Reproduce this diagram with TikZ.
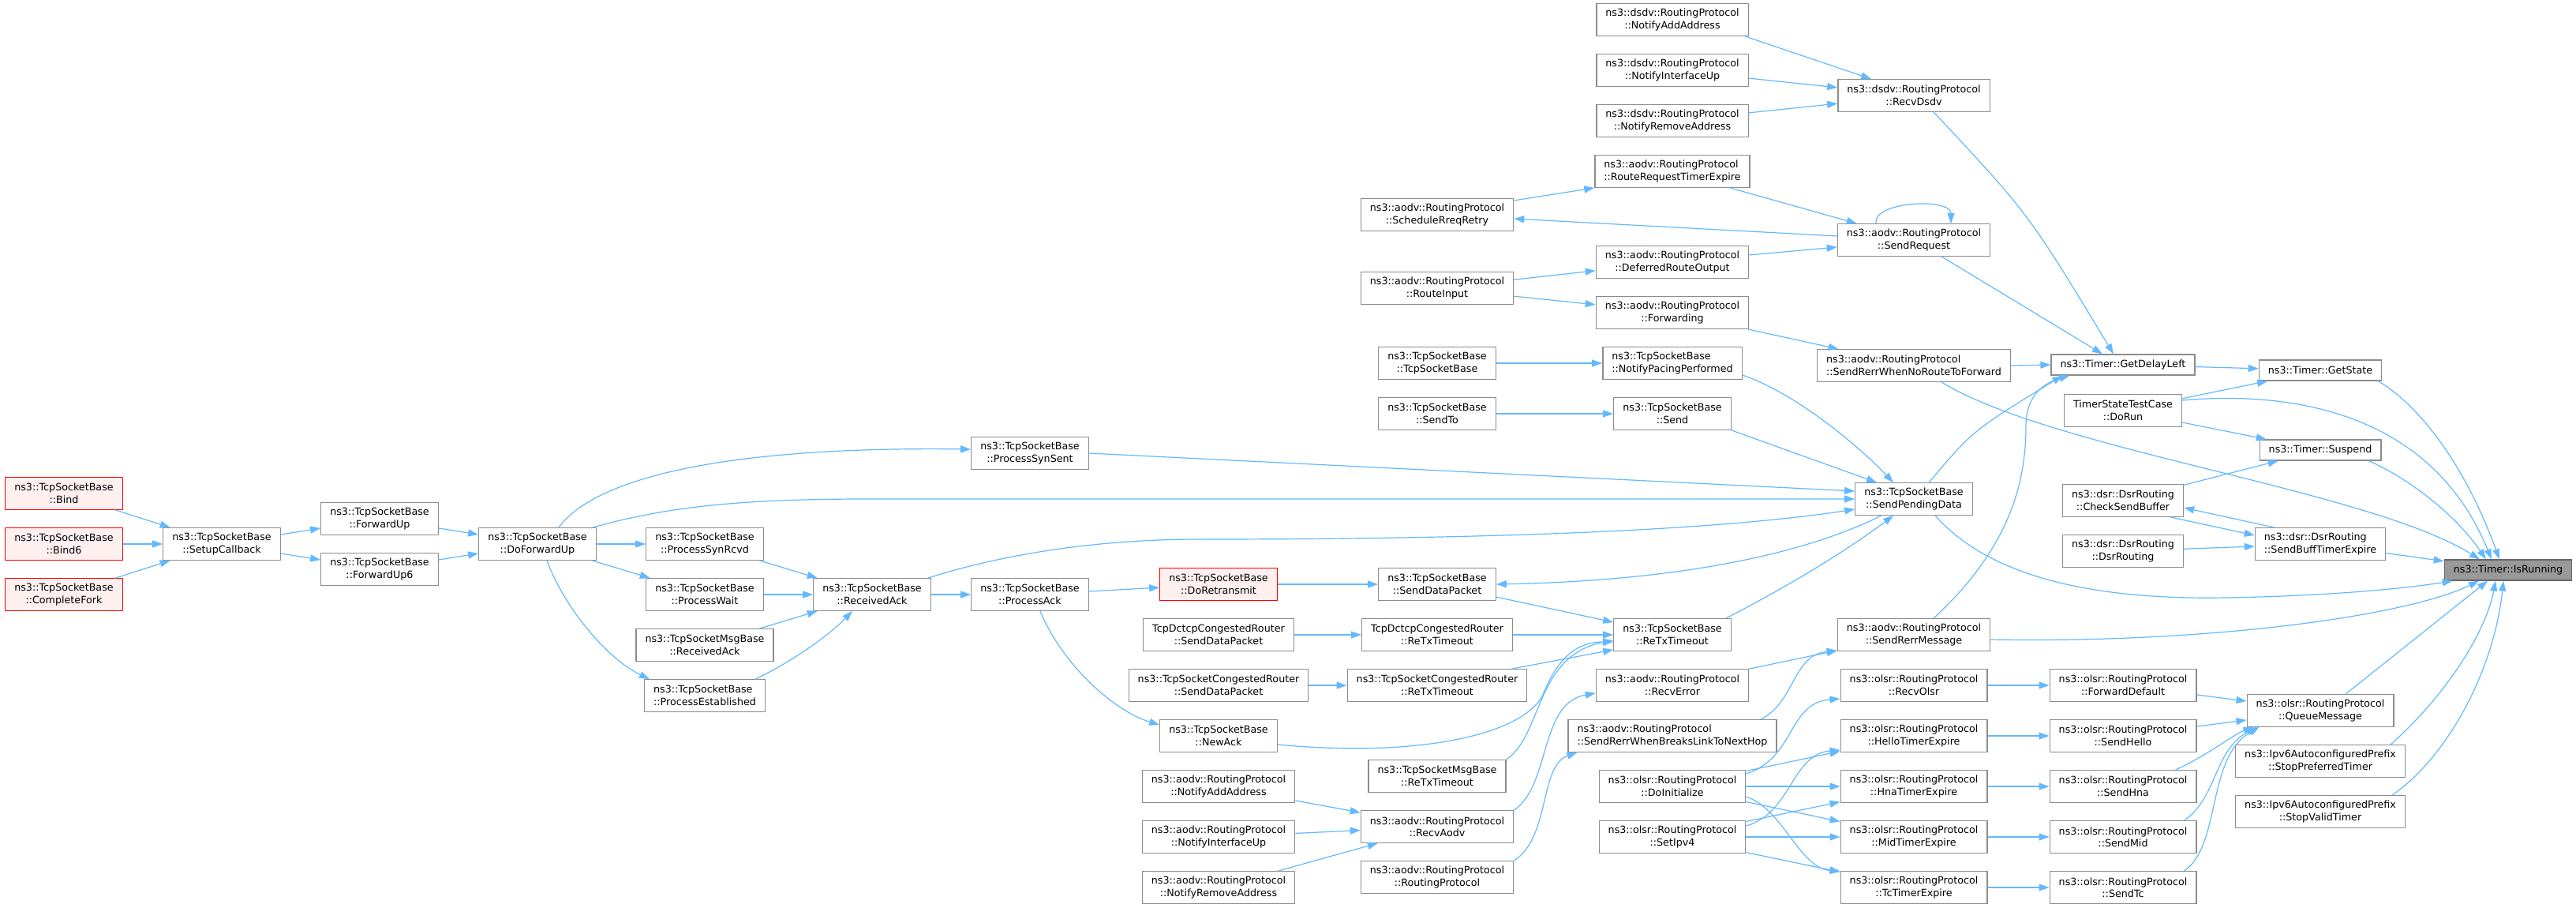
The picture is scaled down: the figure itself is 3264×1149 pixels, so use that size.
\documentclass[tikz,border=0pt]{standalone}
\usepackage{fontspec}
\setmainfont{DejaVu Sans}
\usetikzlibrary{arrows.meta}
\definecolor{edgeblue}{HTML}{63B8FF}
\definecolor{boxgrey}{HTML}{8C8C8C}
\definecolor{truncfill}{HTML}{FFF0F0}
\definecolor{rootfill}{HTML}{999999}
\definecolor{rootedge}{HTML}{666666}
\tikzset{
	fn/.style={draw=boxgrey, line width=1.3pt, fill=white, inner xsep=11.5pt, inner ysep=2pt,
		minimum height=40.5pt, align=center, font=\fontsize{12.7pt}{15.5pt}\selectfont},
	fnl/.style={fn, align=left},
	fnone/.style={fn, minimum height=26pt},
	trunc/.style={fn, draw=red, fill=truncfill},
	root/.style={fnone, draw=rootedge, fill=rootfill},
	call/.style={draw=edgeblue, line width=1.2pt, -{Triangle[length=13pt, width=9pt]}},
}

\begin{document}
\begin{tikzpicture}[x=1pt, y=-1pt]
		%%%%% START %%%%%
		\useasboundingbox (0,0) rectangle (3264,1149);
		
		\node[trunc] (bind) at (81,625) {ns3::TcpSocketBase\\::Bind};
		\node[trunc] (bindsix) at (81,689) {ns3::TcpSocketBase\\::Bind6};
		\node[trunc] (complfork) at (81,753) {ns3::TcpSocketBase\\::CompleteFork};
		\node[fn] (setupcb) at (281,689) {ns3::TcpSocketBase\\::SetupCallback};
		\node[fn] (fwdup) at (481,657) {ns3::TcpSocketBase\\::ForwardUp};
		\node[fn] (fwdupsix) at (481,721) {ns3::TcpSocketBase\\::ForwardUp6};
		\node[fn] (dofwdup) at (681,689) {ns3::TcpSocketBase\\::DoForwardUp};
		
		\node[fn] (synrcvd) at (893,689) {ns3::TcpSocketBase\\::ProcessSynRcvd};
		\node[fn] (pwait) at (893,753) {ns3::TcpSocketBase\\::ProcessWait};
		\node[fn] (msgrecvack) at (893,817) {ns3::TcpSocketMsgBase\\::ReceivedAck};
		\node[fnl] (pestab) at (893,881) {ns3::TcpSocketBase\\::ProcessEstablished};
		\node[fn] (recvack) at (1105,753) {ns3::TcpSocketBase\\::ReceivedAck};
		\node[fn] (synsent) at (1305,574) {ns3::TcpSocketBase\\::ProcessSynSent};
		\node[fn] (pack) at (1305,753) {ns3::TcpSocketBase\\::ProcessAck};
		
		\node[trunc] (doretx) at (1544,740) {ns3::TcpSocketBase\\::DoRetransmit};
		\node[fn] (dctcpsdp) at (1544,804) {TcpDctcpCongestedRouter\\::SendDataPacket};
		\node[fn] (congsdp) at (1544,868) {ns3::TcpSocketCongestedRouter\\::SendDataPacket};
		\node[fn] (newack) at (1544,932) {ns3::TcpSocketBase\\::NewAck};
		\node[fn] (aodvnaa) at (1544,996) {ns3::aodv::RoutingProtocol\\::NotifyAddAddress};
		\node[fn] (aodvniu) at (1544,1060) {ns3::aodv::RoutingProtocol\\::NotifyInterfaceUp};
		\node[fn] (aodvnra) at (1544,1124) {ns3::aodv::RoutingProtocol\\::NotifyRemoveAddress};
		
		\node[fn] (schedrreq) at (1821,272) {ns3::aodv::RoutingProtocol\\::ScheduleRreqRetry};
		\node[fn] (routeinput) at (1821,365) {ns3::aodv::RoutingProtocol\\::RouteInput};
		\node[fn] (tsbctor) at (1821,460) {ns3::TcpSocketBase\\::TcpSocketBase};
		\node[fn] (sendto) at (1821,524) {ns3::TcpSocketBase\\::SendTo};
		\node[fn] (senddp) at (1821,740) {ns3::TcpSocketBase\\::SendDataPacket};
		\node[fn] (dctcpretx) at (1821,804) {TcpDctcpCongestedRouter\\::ReTxTimeout};
		\node[fn] (congretx) at (1821,868) {ns3::TcpSocketCongestedRouter\\::ReTxTimeout};
		\node[fn] (msgretx) at (1821,983) {ns3::TcpSocketMsgBase\\::ReTxTimeout};
		\node[fn] (recvaodv) at (1821,1047) {ns3::aodv::RoutingProtocol\\::RecvAodv};
		\node[fn] (aodvctor) at (1821,1111) {ns3::aodv::RoutingProtocol\\::RoutingProtocol};
		
		\node[fn] (dsdvnaa) at (2119,25) {ns3::dsdv::RoutingProtocol\\::NotifyAddAddress};
		\node[fn] (dsdvniu) at (2119,89) {ns3::dsdv::RoutingProtocol\\::NotifyInterfaceUp};
		\node[fn] (dsdvnra) at (2119,153) {ns3::dsdv::RoutingProtocol\\::NotifyRemoveAddress};
		\node[fnl] (rreqexp) at (2119,217) {ns3::aodv::RoutingProtocol\\::RouteRequestTimerExpire};
		\node[fn] (deferred) at (2119,332) {ns3::aodv::RoutingProtocol\\::DeferredRouteOutput};
		\node[fn] (forwarding) at (2119,396) {ns3::aodv::RoutingProtocol\\::Forwarding};
		\node[fnl] (pacing) at (2119,460) {ns3::TcpSocketBase\\::NotifyPacingPerformed};
		\node[fn] (send) at (2119,524) {ns3::TcpSocketBase\\::Send};
		\node[fn] (retx) at (2119,804) {ns3::TcpSocketBase\\::ReTxTimeout};
		\node[fn] (recverror) at (2119,868) {ns3::aodv::RoutingProtocol\\::RecvError};
		\node[fnl] (breakslink) at (2119,932) {ns3::aodv::RoutingProtocol\\::SendRerrWhenBreaksLinkToNextHop};
		\node[fn] (doinit) at (2119,996) {ns3::olsr::RoutingProtocol\\::DoInitialize};
		\node[fn] (setipv4) at (2119,1060) {ns3::olsr::RoutingProtocol\\::SetIpv4};
		
		\node[fn] (recvdsdv) at (2425,121) {ns3::dsdv::RoutingProtocol\\::RecvDsdv};
		\node[fn] (sendreq) at (2425,304) {ns3::aodv::RoutingProtocol\\::SendRequest};
		\node[fnl] (noroute) at (2425,463) {ns3::aodv::RoutingProtocol\\::SendRerrWhenNoRouteToForward};
		\node[fn] (sendpd) at (2425,632) {ns3::TcpSocketBase\\::SendPendingData};
		\node[fn] (rerrmsg) at (2425,804) {ns3::aodv::RoutingProtocol\\::SendRerrMessage};
		\node[fn] (recvolsr) at (2425,868) {ns3::olsr::RoutingProtocol\\::RecvOlsr};
		\node[fn] (helloexp) at (2425,932) {ns3::olsr::RoutingProtocol\\::HelloTimerExpire};
		\node[fn] (hnaexp) at (2425,996) {ns3::olsr::RoutingProtocol\\::HnaTimerExpire};
		\node[fn] (midexp) at (2425,1060) {ns3::olsr::RoutingProtocol\\::MidTimerExpire};
		\node[fn] (tcexp) at (2425,1124) {ns3::olsr::RoutingProtocol\\::TcTimerExpire};
		
		\node[fnone] (getdelay) at (2690,462) {ns3::Timer::GetDelayLeft};
		\node[fn] (dorun) at (2690,520) {TimerStateTestCase\\::DoRun};
		\node[fn] (checksb) at (2690,634) {ns3::dsr::DsrRouting\\::CheckSendBuffer};
		\node[fn] (dsrctor) at (2690,698) {ns3::dsr::DsrRouting\\::DsrRouting};
		\node[fn] (fwddefault) at (2690,868) {ns3::olsr::RoutingProtocol\\::ForwardDefault};
		\node[fn] (sendhello) at (2690,932) {ns3::olsr::RoutingProtocol\\::SendHello};
		\node[fn] (sendhna) at (2690,996) {ns3::olsr::RoutingProtocol\\::SendHna};
		\node[fn] (sendmid) at (2690,1060) {ns3::olsr::RoutingProtocol\\::SendMid};
		\node[fn] (sendtc) at (2690,1124) {ns3::olsr::RoutingProtocol\\::SendTc};
		
		\node[fnone] (getstate) at (2940,469) {ns3::Timer::GetState};
		\node[fnone] (suspend) at (2940,570) {ns3::Timer::Suspend};
		\node[fnl] (sendbuff) at (2940,689) {ns3::dsr::DsrRouting\\::SendBuffTimerExpire};
		\node[fn] (queuemsg) at (2940,900) {ns3::olsr::RoutingProtocol\\::QueueMessage};
		\node[fn] (stoppref) at (2940,964) {ns3::Ipv6AutoconfiguredPrefix\\::StopPreferredTimer};
		\node[fn] (stopvalid) at (2940,1028) {ns3::Ipv6AutoconfiguredPrefix\\::StopValidTimer};
		
		\node[root] (isrunning) at (3178,722) {ns3::Timer::IsRunning};
		
		% tcp socket callers
		\draw[call] (bind) -- (setupcb);
		\draw[call] (bindsix) -- (setupcb);
		\draw[call] (complfork) -- (setupcb);
		\draw[call] (setupcb) -- (fwdup);
		\draw[call] (setupcb) -- (fwdupsix);
		\draw[call] (fwdup) -- (dofwdup);
		\draw[call] (fwdupsix) -- (dofwdup);
		\draw[call] ([xshift=27pt]dofwdup.north) .. controls (750,610) and (900,565) .. ([yshift=5pt]synsent.west);
		\draw[call] ([xshift=-5pt]dofwdup.north east) .. controls (850,640) and (950,632) .. (1100,632) -- (sendpd.west);
		\draw[call] (dofwdup) -- (synrcvd);
		\draw[call] (dofwdup) -- (pwait);
		\draw[call] ([xshift=12pt]dofwdup.south) .. controls (715,770) and (770,835) .. ([xshift=7pt]pestab.north west);
		\draw[call] (synrcvd) -- (recvack);
		\draw[call] (pwait) -- (recvack);
		\draw[call] (msgrecvack) -- (recvack);
		\draw[call] ([xshift=-13pt]pestab.north east) .. controls (1010,835) and (1055,800) .. ([xshift=-25pt]recvack.south);
		\draw[call] (recvack) -- (pack);
		\draw[call] ([xshift=-4pt]recvack.north east) .. controls (1260,705) and (1380,683) .. (1520,683) .. controls (1950,683) and (2200,668) .. ([yshift=-13pt]sendpd.west);
		\draw[call] (synsent.east) -- ([yshift=10pt]sendpd.west);
		\draw[call] (pack) -- (doretx);
		\draw[call] ([xshift=13pt]pack.south) .. controls (1345,840) and (1410,900) .. ([yshift=-7pt]newack.north west);
		\draw[call] (doretx) -- (senddp);
		\draw[call] ([xshift=-41pt]sendpd.south) .. controls (2300,695) and (2150,735) .. (senddp.east);
		\draw[call] (senddp) -- (retx);
		\draw[call] (dctcpsdp) -- (dctcpretx);
		\draw[call] (dctcpretx) -- (retx);
		\draw[call] (congsdp) -- (congretx);
		\draw[call] ([xshift=-20pt]congretx.north east) -- ([yshift=2pt]retx.south west);
		\draw[call] ([yshift=-11pt]newack.east) .. controls (1800,960) and (1930,930) .. (1955,880) .. controls (1975,830) and (2000,813) .. ([yshift=-9pt]retx.west);
		\draw[call] (msgretx.north east) .. controls (1955,930) and (1945,830) .. ([yshift=-7pt]retx.west);
		\draw[call] ([xshift=-7pt]retx.north east) .. controls (2280,735) and (2350,690) .. ([xshift=-26pt]sendpd.south);
		\draw[call] (tsbctor) -- (pacing);
		\draw[call] ([yshift=-15pt]pacing.east) .. controls (2280,500) and (2360,570) .. ([xshift=-26pt]sendpd.north);
		\draw[call] (sendto) -- (send);
		\draw[call] (send.south east) -- ([xshift=-47pt]sendpd.north);
		
		% aodv and dsdv callers
		\draw[call] (aodvnaa) -- (recvaodv);
		\draw[call] (aodvniu) -- (recvaodv);
		\draw[call] (aodvnra) -- (recvaodv);
		\draw[call] (recvaodv.north east) .. controls (1965,995) and (1950,890) .. ([yshift=-10pt]recverror.west);
		\draw[call] (aodvctor.north east) .. controls (1965,1060) and (1950,970) .. ([xshift=12pt]breakslink.south west);
		\draw[call] (recverror.north east) -- ([yshift=1pt]rerrmsg.south west);
		\draw[call] ([xshift=-21pt]breakslink.north east) .. controls (2275,890) and (2270,830) .. ([yshift=1pt]rerrmsg.south west);
		\draw[call] ([yshift=18pt]schedrreq.east) -- (rreqexp.south west);
		\draw[call] ([xshift=73pt]rreqexp.south) -- ([xshift=25pt]sendreq.north west);
		\draw[call] ([yshift=5pt]sendreq.west) -- ([yshift=-5pt]schedrreq.east);
		\draw[call] ([xshift=-48pt]sendreq.north) .. controls (2372,255) and (2472,250) .. ([xshift=47pt]sendreq.north);
		\draw[call] ([yshift=9pt]deferred.east) -- ([yshift=-9pt]sendreq.west);
		\draw[call] (routeinput) -- (deferred);
		\draw[call] (routeinput) -- (forwarding);
		\draw[call] (forwarding) -- (noroute);
		\draw[call] ([xshift=-5pt]dsdvnaa.south east) -- ([xshift=43pt]recvdsdv.north west);
		\draw[call] (dsdvniu) -- (recvdsdv);
		\draw[call] (dsdvnra) -- (recvdsdv);
		
		% timer
		\draw[call] ([xshift=25pt]recvdsdv.south) .. controls (2570,270) .. ([xshift=-12pt]getdelay.north);
		\draw[call] ([xshift=35pt]sendreq.south) -- ([xshift=-26pt]getdelay.north);
		\draw[call] (noroute.east) -- (getdelay.west);
		\draw[call] ([xshift=19pt]sendpd.north) .. controls (2500,545) .. ([xshift=15pt]getdelay.south west);
		\draw[call] ([xshift=25pt]rerrmsg.north) .. controls (2540,700) and (2567,620) .. (2567,540) .. controls (2567,500) and (2590,485) .. ([xshift=24pt]getdelay.south west);
		\draw[call] (getdelay) -- (getstate);
		\draw[call] (dorun) -- (getstate);
		\draw[call] (dorun) -- (suspend);
		\draw[call] (checksb) -- (suspend);
		\draw[call] ([xshift=-17pt]checksb.south east) -- ([yshift=11pt]sendbuff.west);
		\draw[call] ([xshift=25pt]sendbuff.north west) -- ([yshift=-9pt]checksb.east);
		\draw[call] (dsrctor) -- (sendbuff);
		\draw[call] (sendbuff) -- (isrunning);
		\draw[call] ([xshift=-5pt]getstate.south east) .. controls (3060,510) and (3120,580) .. ([xshift=-11pt]isrunning.north);
		\draw[call] ([xshift=-16pt]suspend.south east) .. controls (3050,605) and (3110,650) .. ([xshift=-28pt]isrunning.north);
		\draw[call] ([yshift=13pt]dorun.east) .. controls (2900,495) and (3080,520) .. ([xshift=-21pt]isrunning.north);
		\draw[call] ([xshift=35pt]noroute.south) .. controls (2600,570) and (3000,620) .. ([xshift=-36pt]isrunning.north);
		\draw[call] ([xshift=27pt]sendpd.south) .. controls (2520,730) and (2650,760) .. (2820,757) .. controls (2950,755) and (3050,745) .. ([xshift=11pt]isrunning.south west);
		\draw[call] ([yshift=-6pt]rerrmsg.east) .. controls (2800,815) and (3050,780) .. ([xshift=-37pt]isrunning.south);
		\draw[call] ([xshift=32pt]queuemsg.north) -- ([xshift=-26pt]isrunning.south);
		\draw[call] ([xshift=-19pt]stoppref.north east) .. controls (3100,880) and (3150,800) .. ([xshift=-16pt]isrunning.south);
		\draw[call] ([xshift=-17pt]stopvalid.north east) .. controls (3100,960) and (3160,850) .. ([xshift=-6pt]isrunning.south);
		
		% olsr callers
		\draw[call] (doinit) -- (helloexp);
		\draw[call] ([yshift=-5pt]doinit.north east) .. controls (2275,960) and (2265,890) .. ([yshift=-17pt]recvolsr.west);
		\draw[call] (doinit) -- (hnaexp);
		\draw[call] (doinit) -- (midexp);
		\draw[call] ([yshift=-13pt]doinit.east) .. controls (2260,1025) and (2280,1100) .. (tcexp.north west);
		\draw[call] (setipv4) -- (hnaexp);
		\draw[call] ([yshift=14pt]setipv4.east) .. controls (2270,1030) and (2270,955) .. ([yshift=-18pt]helloexp.west);
		\draw[call] (setipv4) -- (midexp);
		\draw[call] (setipv4) -- (tcexp);
		\draw[call] (recvolsr) -- (fwddefault);
		\draw[call] (helloexp) -- (sendhello);
		\draw[call] (hnaexp) -- (sendhna);
		\draw[call] (midexp) -- (sendmid);
		\draw[call] (tcexp) -- (sendtc);
		\draw[call] (fwddefault) -- (queuemsg);
		\draw[call] (sendhello) -- (queuemsg);
		\draw[call] ([xshift=-27pt]sendhna.north east) .. controls (2800,955) and (2830,930) .. ([xshift=9pt]queuemsg.south west);
		\draw[call] ([xshift=-16pt]sendmid.north east) .. controls (2810,1010) and (2805,950) .. ([xshift=13pt]queuemsg.south west);
		\draw[call] ([xshift=-16pt]sendtc.north east) .. controls (2815,1070) and (2795,960) .. ([xshift=16pt]queuemsg.south west);
		
		%%%%% END %%%%%
	\end{tikzpicture}
\end{document}
